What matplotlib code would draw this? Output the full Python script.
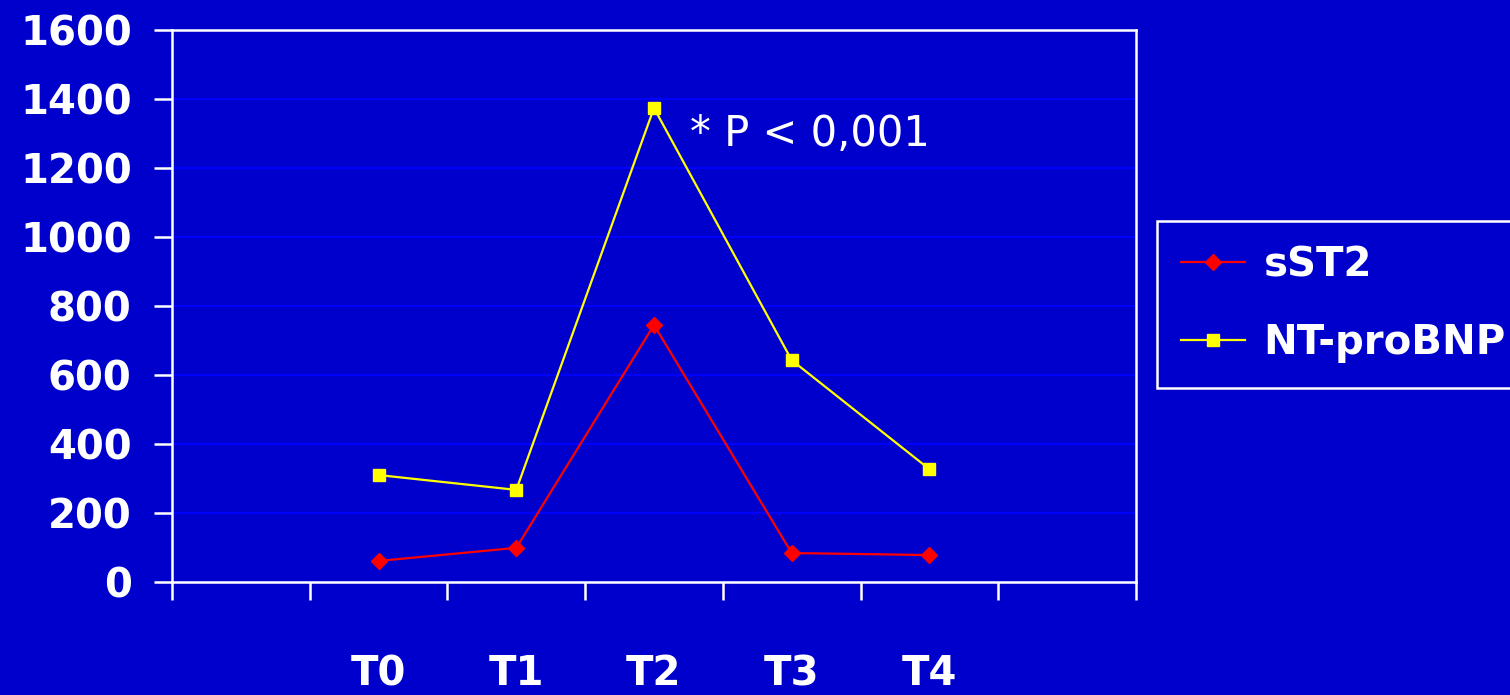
import numpy as np
import matplotlib.pyplot as plt

# timepoints and series values
timepoints = ["T0", "T1", "T2", "T3", "T4"]
sst2 = [61, 99, 745, 84, 78]
nt_probnp = [310, 267, 1374, 643, 327]
y_ticks = [0, 200, 400, 600, 800, 1000, 1200, 1400, 1600]

bg = "#0000CC"
grid_col = "#0000FF"

plt.rcParams["font.family"] = ["DejaVu Sans"]

fig = plt.figure(figsize=(15.1, 6.95), dpi=100, facecolor=bg)
ax = fig.add_axes([0.1139, 0.1626, 0.6384, 0.7942], facecolor=bg)

x = np.arange(len(timepoints))
ax.plot(x, sst2, color="#FF0000", lw=1.6, marker="D", ms=8,
        mfc="#FF0000", mec="#FF0000", label="sST2")
ax.plot(x, nt_probnp, color="#FFFF00", lw=1.6, marker="s", ms=8,
        mfc="#FFFF00", mec="#FFFF00", label="NT-proBNP")

ax.set_xlim(-1.5, 5.5)
ax.set_ylim(0, 1600)
ax.set_yticks(y_ticks)
ax.set_yticklabels([str(v) for v in y_ticks], fontsize=29, fontweight="bold", color="white")
ax.yaxis.grid(True, color=grid_col, lw=1.5)
ax.set_axisbelow(True)

# category boundaries as tick marks, labels at the centres
ax.set_xticks(np.arange(-1.5, 5.6, 1.0), minor=True)
ax.set_xticks(x)
ax.set_xticklabels(timepoints, fontsize=29, fontweight="bold", color="white")
ax.tick_params(axis="x", which="major", length=0, pad=52)
ax.tick_params(axis="x", which="minor", length=13, width=1.8, color="white", direction="out")
ax.tick_params(axis="y", length=13, width=1.8, color="white", direction="out", pad=16)

for s in ax.spines.values():
    s.set_color("white")
    s.set_linewidth(1.8)

ax.text(2.26, 1300, "* P < 0,001", color="white", fontsize=30, va="center", ha="left")

leg = ax.legend(loc="upper left", bbox_to_anchor=(0.766, 0.682),
                bbox_transform=fig.transFigure, fontsize=29, frameon=True,
                fancybox=False, facecolor=bg, edgecolor="white", framealpha=1,
                handlelength=1.6, handletextpad=0.45, borderpad=0.6,
                labelspacing=0.95, borderaxespad=0)
leg.get_frame().set_linewidth(1.8)
for t in leg.get_texts():
    t.set_color("white")
    t.set_fontweight("bold")

fig.savefig("out.png", dpi=100, facecolor=bg)
